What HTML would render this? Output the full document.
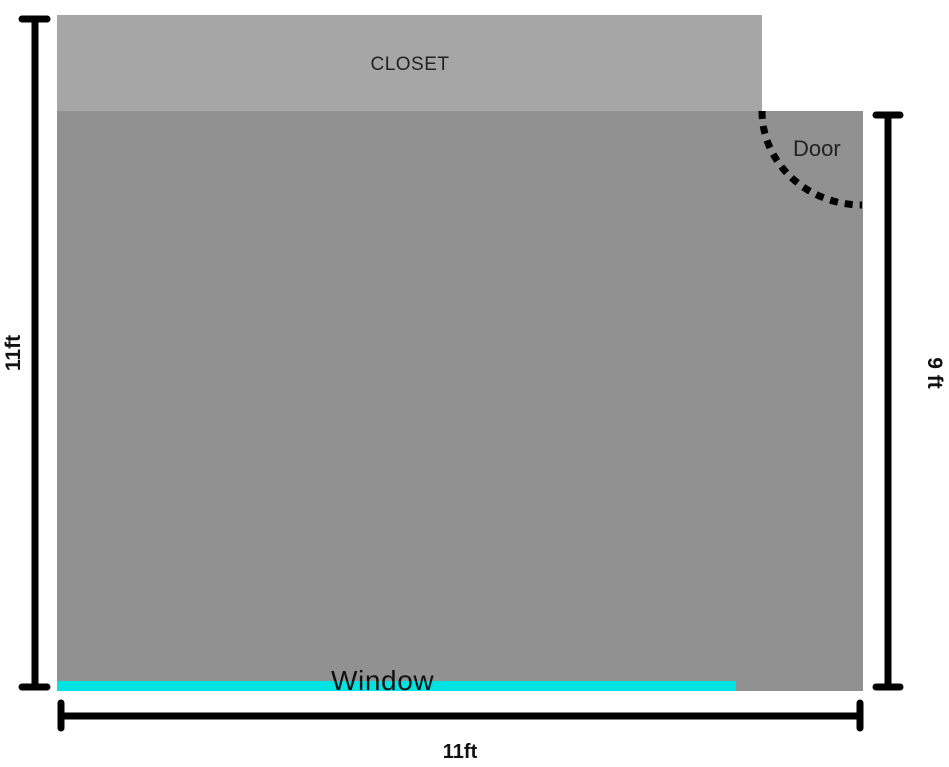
<!DOCTYPE html>
<html><head><meta charset="utf-8"><style>
html,body{margin:0;padding:0;background:#fff;}
svg{display:block;}
</style></head><body>
<svg width="949" height="767" viewBox="0 0 949 767" xmlns="http://www.w3.org/2000/svg">
<rect x="57" y="15" width="705" height="96" fill="#a6a6a6"/>
<rect x="57" y="111" width="806" height="580" fill="#919191"/>
<rect x="57" y="681" width="679" height="10" fill="#00e3e3"/>
<text x="410" y="70" font-family="Liberation Sans, sans-serif" font-size="19" fill="#222" text-anchor="middle" letter-spacing="0.5">CLOSET</text>
<text x="793" y="156" font-family="Liberation Sans, sans-serif" font-size="22" fill="#222">Door</text>
<text x="331" y="690" font-family="Liberation Sans, sans-serif" font-size="28" fill="#111" letter-spacing="0.6">Window</text>
<path d="M762 111 A100 94 0 0 0 862 205" fill="none" stroke="#000" stroke-width="7" stroke-dasharray="8 7"/>
<g stroke="#000" stroke-width="7" stroke-linecap="round" fill="none">
<line x1="35" y1="19" x2="35" y2="687"/>
<line x1="22" y1="19" x2="47" y2="19"/>
<line x1="22" y1="687" x2="47" y2="687"/>
<line x1="61" y1="716" x2="860" y2="716"/>
<line x1="61" y1="703" x2="61" y2="728"/>
<line x1="860" y1="703" x2="860" y2="728"/>
<line x1="888" y1="115" x2="888" y2="687"/>
<line x1="876" y1="115" x2="900" y2="115"/>
<line x1="876" y1="687" x2="900" y2="687"/>
</g>
<text x="460" y="758" font-family="Liberation Sans, sans-serif" font-size="20" font-weight="bold" fill="#111" text-anchor="middle">11ft</text>
<text transform="translate(20,353) rotate(-90)" font-family="Liberation Sans, sans-serif" font-size="21" font-weight="bold" fill="#111" text-anchor="middle">11ft</text>
<text transform="translate(928,373) rotate(90)" font-family="Liberation Sans, sans-serif" font-size="21" font-weight="bold" fill="#111" text-anchor="middle">9 ft</text>
</svg>
</body></html>
